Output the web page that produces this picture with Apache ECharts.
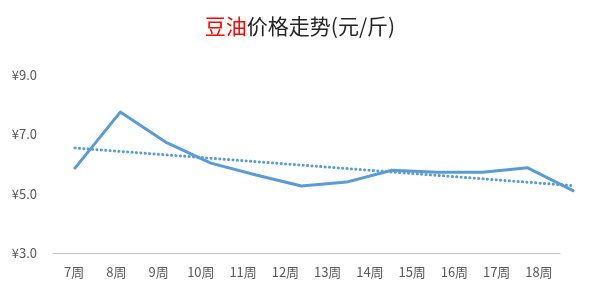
<!DOCTYPE html>
<html>
<head>
<meta charset="utf-8">
<script src="https://cdn.jsdelivr.net/npm/echarts@6/dist/echarts.min.js"></script>
<style>html,body{margin:0;padding:0;background:#fff}#c{width:600px;height:300px}</style>
</head>
<body>
<div id="c"></div>
<script>
var categories = ['7周','8周','9周','10周','11周','12周','13周','14周','15周','16周','17周','18周'];
var prices = [5.86, 7.75, 6.74, 6.03, 5.63, 5.26, 5.39, 5.79, 5.72, 5.72, 5.87, 5.10];
var trendStart = 6.54;
var trendEnd = 5.27;
var yTicks = [3, 5, 7, 9];

var trend = categories.map(function (c, i) {
  if (i === 0) return trendStart;
  if (i === categories.length - 1) return trendEnd;
  return null;
});

var font = '"Noto Sans CJK SC", "Microsoft YaHei", sans-serif';
var chart = echarts.init(document.getElementById('c'));
chart.setOption({
  animation: false,
  title: {
    text: '{r|豆油}{b|价格走势(元/斤)}',
    left: 'center',
    top: 11,
    textStyle: {
      rich: {
        r: {color: '#ff0000', fontSize: 21, fontWeight: 'normal', fontFamily: font},
        b: {color: '#262626', fontSize: 21, fontWeight: 'normal', fontFamily: font}
      }
    }
  },
  grid: [
    {left: 53, right: 40, top: 75, bottom: 47},
    {left: 75, right: 27, top: 75, bottom: 47}
  ],
  xAxis: [
    {
      type: 'category', gridIndex: 0, data: categories, boundaryGap: true,
      axisLine: {lineStyle: {color: '#bfbfbf', width: 1}},
      axisTick: {show: false},
      axisLabel: {color: '#595959', fontSize: 13, margin: 13, fontFamily: font, interval: 0}
    },
    {
      type: 'category', gridIndex: 1, data: categories, boundaryGap: false,
      show: false
    }
  ],
  yAxis: [
    {
      type: 'value', gridIndex: 0, min: yTicks[0], max: yTicks[yTicks.length - 1], interval: 2,
      axisLine: {show: false}, axisTick: {show: false},
      splitLine: {show: false},
      axisLabel: {
        color: '#595959', fontSize: 13, margin: 16, fontFamily: font,
        formatter: function (v) { return '¥' + v.toFixed(1); }
      }
    },
    {
      type: 'value', gridIndex: 1, min: yTicks[0], max: yTicks[yTicks.length - 1], interval: 2,
      show: false
    }
  ],
  series: [
    {
      type: 'line', xAxisIndex: 1, yAxisIndex: 1, data: prices,
      symbol: 'none',
      lineStyle: {color: '#5b9bd5', width: 3, cap: 'round', join: 'round'}
    },
    {
      type: 'line', xAxisIndex: 1, yAxisIndex: 1, data: trend, connectNulls: true,
      symbol: 'none',
      lineStyle: {color: '#5b9bd5', width: 3, type: [0.1, 4.3], cap: 'round'}
    }
  ]
});
</script>
</body>
</html>
